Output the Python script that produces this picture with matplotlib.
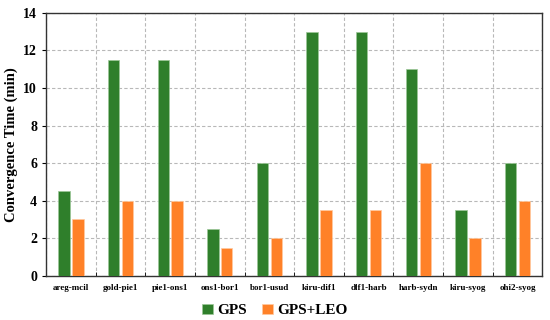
import numpy as np
import matplotlib
matplotlib.use("Agg")
import matplotlib.pyplot as plt

plt.rcParams["font.family"] = ["Liberation Serif", "DejaVu Serif"]
plt.rcParams["font.weight"] = "bold"

baselines = ["areg-mcil", "gold-pie1", "pie1-ons1", "ons1-bor1", "bor1-usud",
             "kiru-dif1", "dlf1-harb", "harb-sydn", "kiru-syog", "ohi2-syog"]
gps = [4.5, 11.5, 11.5, 2.5, 6, 13, 13, 11, 3.5, 6]
gps_leo = [3, 4, 4, 1.5, 2, 3.5, 3.5, 6, 2, 4]

green = "#2f7f2b"
orange = "#ff8128"

fig = plt.figure(figsize=(5.5, 3.2), dpi=100)
ax = fig.add_axes([0.084, 0.138, 0.902, 0.822])

x = np.arange(len(baselines))
w = 0.23
ax.bar(x - 0.14, gps, w, color=green, edgecolor="#9cc898", linewidth=0.5, label="GPS", zorder=3)
ax.bar(x + 0.14, gps_leo, w, color=orange, edgecolor="#ffcaa0", linewidth=0.5, label="GPS+LEO", zorder=3)

ax.set_xlim(-0.5, len(baselines) - 0.5)
ax.set_ylim(0, 14)
ax.set_yticks(range(0, 15, 2))
ax.set_xticks(x)
ax.set_xticklabels(baselines, fontsize=6.5, fontweight="bold")
ax.set_xticks(np.arange(-0.5, len(baselines), 1), minor=True)
ax.tick_params(axis="x", which="major", length=0, pad=6)
ax.tick_params(axis="x", which="minor", length=3, direction="in")
ax.tick_params(axis="y", labelsize=10, length=3)
for lab in ax.get_yticklabels():
    lab.set_fontweight("bold")

ax.grid(True, axis="y", linestyle=(0, (3, 2)), color="#b8b8b8", linewidth=0.8, zorder=0)
ax.grid(True, axis="x", which="minor", linestyle=(0, (3, 2)), color="#b8b8b8", linewidth=0.8, zorder=0)
for s in ax.spines.values():
    s.set_color("#333333")
    s.set_linewidth(1.0)

ax.set_ylabel("Convergence Time (min)", fontsize=10.5, fontweight="bold")

fig.legend(loc="lower center", bbox_to_anchor=(0.5, -0.035), ncol=2, frameon=False,
           fontsize=11, handlelength=0.7, handleheight=0.7, handletextpad=0.3,
           columnspacing=1.0)

fig.savefig("out.png", dpi=100)
